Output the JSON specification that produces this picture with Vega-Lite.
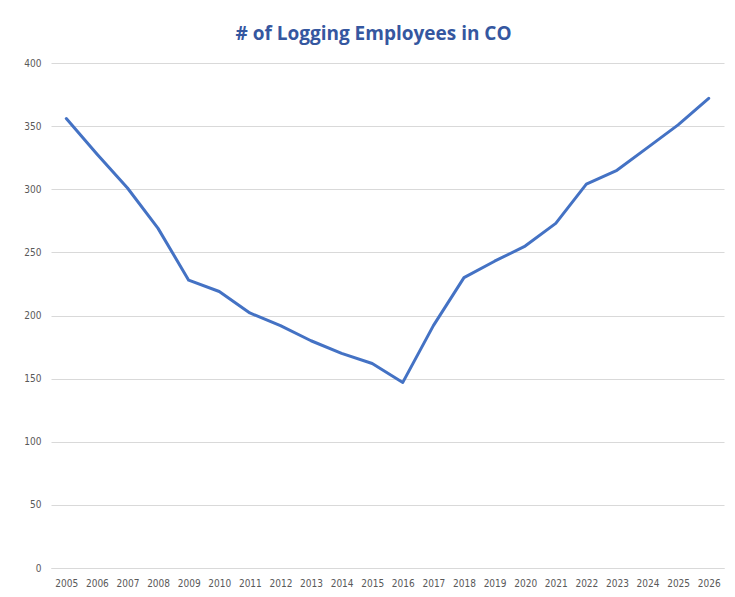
{
  "$schema": "https://vega.github.io/schema/vega-lite/v6.json",
  "autosize": {"type": "none"},
  "width": 673,
  "height": 505,
  "padding": {"left": 51, "top": 63, "right": 11, "bottom": 29},
  "background": "white",
  "title": {
    "text": "# of Logging Employees in CO",
    "font": "Open Sans",
    "fontSize": 19,
    "fontWeight": "bold",
    "color": "#3557A0",
    "anchor": "middle",
    "dx": -14,
    "offset": 14
  },
  "data": {
    "values": [
      {"year": "2005", "employees": 356},
      {"year": "2006", "employees": 328},
      {"year": "2007", "employees": 301},
      {"year": "2008", "employees": 269},
      {"year": "2009", "employees": 228},
      {"year": "2010", "employees": 219},
      {"year": "2011", "employees": 202},
      {"year": "2012", "employees": 192},
      {"year": "2013", "employees": 180},
      {"year": "2014", "employees": 170},
      {"year": "2015", "employees": 162},
      {"year": "2016", "employees": 147},
      {"year": "2017", "employees": 192},
      {"year": "2018", "employees": 230},
      {"year": "2019", "employees": 243},
      {"year": "2020", "employees": 255},
      {"year": "2021", "employees": 273},
      {"year": "2022", "employees": 304},
      {"year": "2023", "employees": 315},
      {"year": "2024", "employees": 333},
      {"year": "2025", "employees": 351},
      {"year": "2026", "employees": 372}
    ]
  },
  "mark": {"type": "line", "color": "#4472C4", "strokeWidth": 3, "strokeJoin": "round", "strokeCap": "round"},
  "encoding": {
    "x": {
      "field": "year",
      "type": "ordinal",
      "scale": {"type": "point", "padding": 0.5},
      "axis": {
        "title": null,
        "labelAngle": 0,
        "ticks": false,
        "domain": true,
        "domainColor": "#D9D9D9",
        "labelFont": "DejaVu Sans Condensed",
        "labelFontSize": 10,
        "labelColor": "#595959",
        "labelPadding": 10
      }
    },
    "y": {
      "field": "employees",
      "type": "quantitative",
      "scale": {"domain": [0, 400], "nice": false},
      "axis": {
        "title": null,
        "values": [0, 50, 100, 150, 200, 250, 300, 350, 400],
        "ticks": false,
        "domain": false,
        "grid": true,
        "gridColor": "#D9D9D9",
        "gridWidth": 1,
        "labelFont": "DejaVu Sans Condensed",
        "labelFontSize": 10,
        "labelColor": "#595959",
        "labelPadding": 10
      }
    }
  },
  "config": {"view": {"stroke": null}}
}
